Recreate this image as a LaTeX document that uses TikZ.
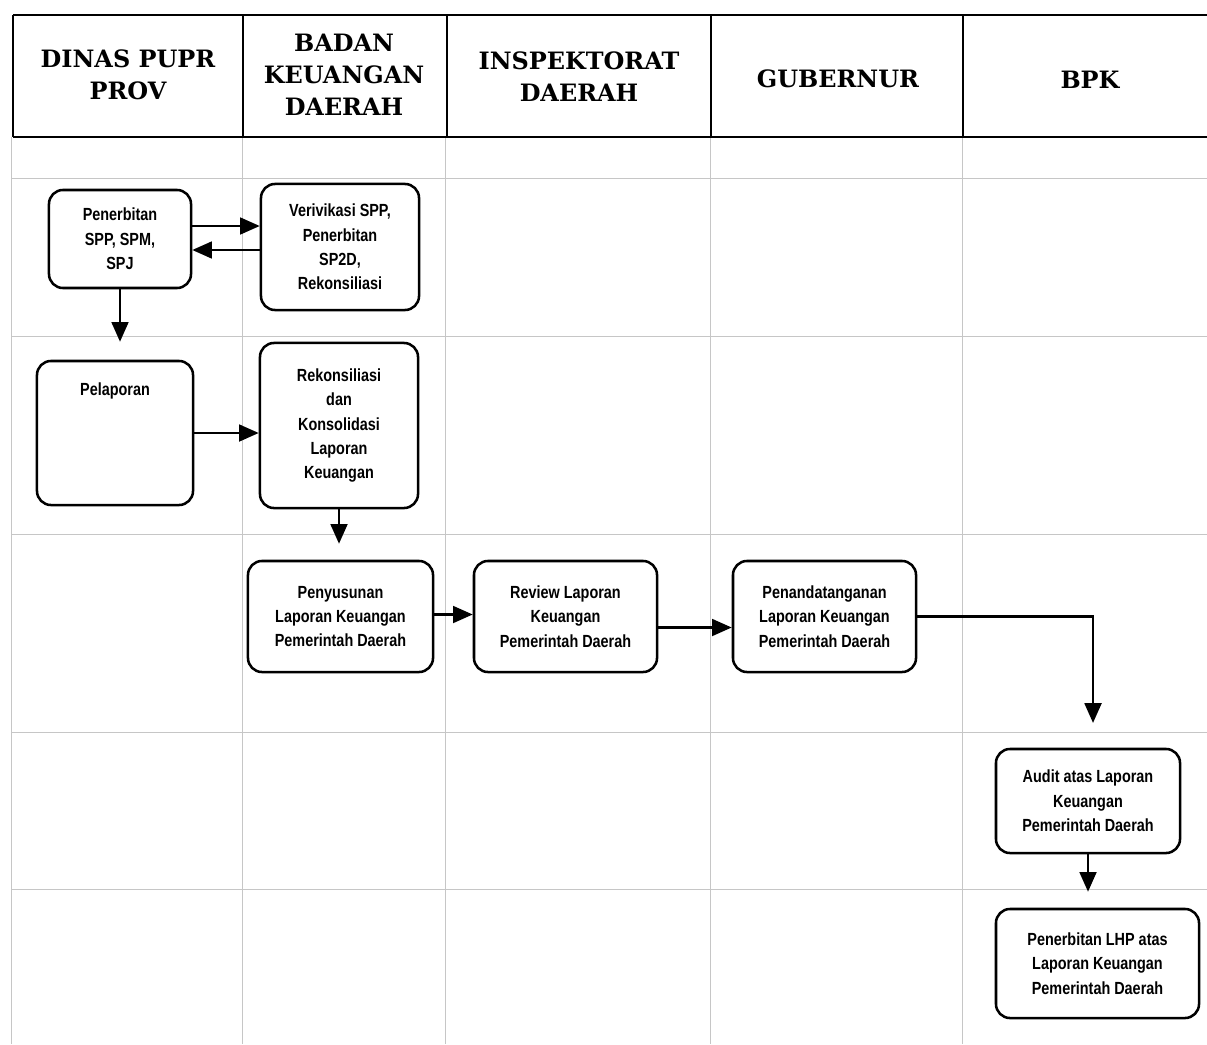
\documentclass[tikz,border=0pt]{standalone}
\usepackage{fontspec}
\usepackage{tikz}
\usetikzlibrary{arrows.meta,calc}
\newfontfamily\headfont{DejaVu Serif}
\newfontfamily\boxfont[FakeStretch=0.82]{Liberation Sans}

\begin{document}
\begin{tikzpicture}[x=0.025cm,y=-0.025cm,
        proc/.style={draw=black,fill=white,line width=1.8pt,rounded corners=0.35cm,align=center,inner sep=2pt,
                font=\boxfont\bfseries\fontsize{12.5}{17.4}\selectfont},
        head/.style={align=center,font=\headfont\bfseries\fontsize{17}{22.7}\selectfont},
        gridline/.style={draw=gray!45,line width=0.5pt},
        headline/.style={draw=black,line width=1.4pt},
        arr/.style={line width=1.6pt,-{Triangle[length=14pt,width=12pt]}}]

        \useasboundingbox (0,0) rectangle (1207,1044);

        % swimlane grid
        \foreach \y in {178,336,534,732,889}
                \draw[gridline] (11,\y) -- (1207,\y);
        \foreach \x in {11,242,445,710,962}
                \draw[gridline] (\x,137) -- (\x,1044);

        % header row
        \draw[headline] (13,15) -- (1207,15);
        \draw[headline] (13,137) -- (1207,137);
        \foreach \x in {13,243,447,711,963}
                \draw[headline] (\x,15) -- (\x,137);

        \node[head] (h1) at (128,75) {DINAS PUPR\\PROV};
        \node[head] (h2) at (344,75) {BADAN\\KEUANGAN\\DAERAH};
        \node[head] (h3) at (579,77) {INSPEKTORAT\\DAERAH};
        \node[head] (h4) at (838,79) {GUBERNUR};
        \node[head] (h5) at (1090,80) {BPK};

        % process steps
        \node[proc,minimum width=3.55cm,minimum height=2.45cm] (spp) at (120,239) {Penerbitan\\SPP, SPM,\\SPJ};
        \node[proc,minimum width=3.95cm,minimum height=3.15cm] (ver) at (340,247) {Verivikasi SPP,\\Penerbitan\\SP2D,\\Rekonsiliasi};
        \node[proc,minimum width=3.9cm,minimum height=3.6cm,
                label={[anchor=north,yshift=-0.45cm,font=\boxfont\bfseries\fontsize{12.5}{17.4}\selectfont]north:Pelaporan}] (lap) at (115,433) {};
        \node[proc,minimum width=3.95cm,minimum height=4.125cm] (rek) at (339,425.5) {Rekonsiliasi\\dan\\Konsolidasi\\Laporan\\Keuangan};
        \node[proc,minimum width=4.625cm,minimum height=2.775cm] (sus) at (340.5,616.5) {Penyusunan\\Laporan Keuangan\\Pemerintah Daerah};
        \node[proc,minimum width=4.575cm,minimum height=2.775cm] (rev) at (565.5,616.5) {Review Laporan\\Keuangan\\Pemerintah Daerah};
        \node[proc,minimum width=4.575cm,minimum height=2.775cm] (ttd) at (824.5,616.5) {Penandatanganan\\Laporan Keuangan\\Pemerintah Daerah};
        \node[proc,minimum width=4.6cm,minimum height=2.6cm] (aud) at (1088,801) {Audit atas Laporan\\Keuangan\\Pemerintah Daerah};
        \node[proc,minimum width=5.075cm,minimum height=2.725cm] (lhp) at (1097.5,963.5) {Penerbitan LHP atas\\Laporan Keuangan\\Pemerintah Daerah};

        % flow
        \draw[arr] ($(spp.east)+(0,-13)$) -- ($(ver.west)+(0,-21)$);
        \draw[arr] ($(ver.west)+(0,3)$) -- ($(spp.east)+(0,11)$);
        \draw[arr,shorten >=0.45cm] (spp.south) -- (spp.south |- lap.north);
        \draw[arr] (lap.east) -- (lap.east -| rek.west);
        \draw[arr,shorten >=0.4cm] (rek.south) -- (rek.south |- sus.north);
        \draw[arr] ($(sus.east)+(0,-2)$) -- ($(rev.west)+(0,-2)$);
        \draw[arr] ($(rev.east)+(0,11)$) -- ($(ttd.west)+(0,11)$);
        \draw[arr,shorten >=0.62cm] (ttd.east) -| ($(aud.north)+(5,0)$);
        \draw[arr,shorten >=0.4cm] (aud.south) -- (aud.south |- lhp.north);

\end{tikzpicture}
\end{document}
